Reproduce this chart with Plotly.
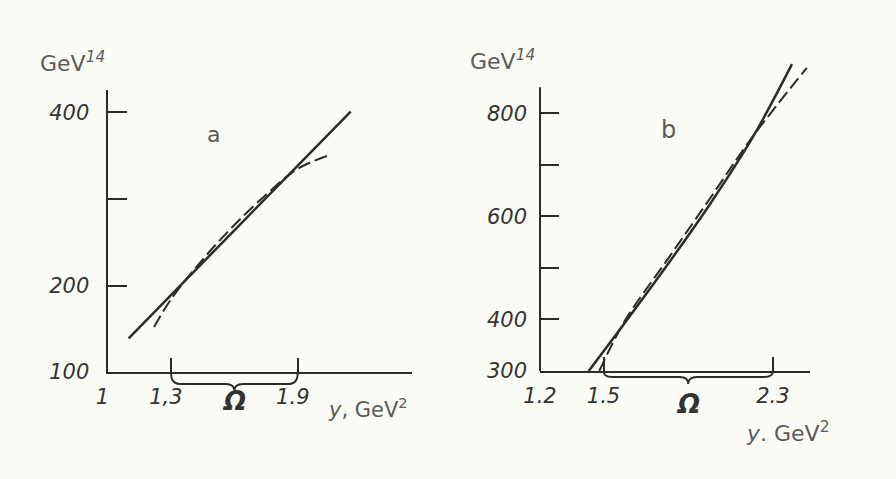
import plotly.graph_objects as go

W, H = 896, 479
BG = "#fbfbf5"
INK = "#2b2b2b"
GRAY = "#5a5a5a"

# ---------------- data ----------------
# panel a
a_solid_x = [1.10, 2.15]
a_solid_y = [139, 401]
a_dash_x = [1.22, 1.30, 1.45, 1.60, 1.75, 1.90, 2.04]
a_dash_y = [152, 184, 230, 270, 305, 335, 350]
a_yticks = [100, 200, 400]
a_ytext = ["100", "200", "400"]
a_yminor = [300]
a_xticks = [1.0, 1.3, 1.9]
a_xtext = ["1", "1,3", "1.9"]
a_omega = [1.3, 1.9]

# panel b
b_solid_x = [1.43, 1.60, 1.80, 2.00, 2.20, 2.39]
b_solid_y = [300, 393, 505, 622, 750, 895]
b_dash_x = [1.48, 1.60, 1.80, 2.00, 2.20, 2.46]
b_dash_y = [300, 397, 515, 633, 752, 888]
b_yticks = [300, 400, 600, 800]
b_ytext = ["300", "400", "600", "800"]
b_yminor = [500, 700]
b_xticks = [1.2, 1.5, 2.3]
b_xtext = ["1.2", "1.5", "2.3"]
b_omega = [1.5, 2.3]
b_axis_top = 850

# ---------------- layout helpers ----------------
def xd(p0, p1):
    return [p0 / W, p1 / W]

def yd(pb, pt):
    return [(H - pb) / H, (H - pt) / H]

def py(p):
    return (H - p) / H

tickfont = dict(family="DejaVu Sans", size=21, color="#333333", style="italic")

fig = go.Figure()
fig.add_trace(go.Scatter(x=a_solid_x, y=a_solid_y, mode="lines",
                         line=dict(color=INK, width=2.5), xaxis="x", yaxis="y"))
fig.add_trace(go.Scatter(x=a_dash_x, y=a_dash_y, mode="lines", line_shape="spline",
                         line=dict(color=INK, width=2, dash="13px,5px"), xaxis="x", yaxis="y"))
fig.add_trace(go.Scatter(x=b_solid_x, y=b_solid_y, mode="lines", line_shape="spline",
                         line=dict(color=INK, width=2.5), xaxis="x2", yaxis="y2"))
fig.add_trace(go.Scatter(x=b_dash_x, y=b_dash_y, mode="lines", line_shape="spline",
                         line=dict(color=INK, width=2, dash="13px,5px"), xaxis="x2", yaxis="y2"))

common_x = dict(showgrid=False, zeroline=False, showline=True, linecolor=INK, linewidth=2,
                ticks="inside", ticklen=14, tickwidth=2, tickcolor=INK, tickmode="array",
                tickfont=tickfont, ticklabelstandoff=5, automargin=False, fixedrange=True)
common_y = dict(showgrid=False, zeroline=False, linecolor=INK, linewidth=2,
                ticks="inside", ticklen=19, tickwidth=2, tickcolor=INK, tickmode="array",
                tickfont=tickfont, ticklabelstandoff=12, automargin=False, fixedrange=True)
minor_y = dict(ticks="inside", ticklen=19, tickwidth=2, tickcolor=INK, tickmode="array", showgrid=False)

fig.update_layout(
    width=W, height=H,
    font=dict(family="DejaVu Sans", size=21, color=GRAY),
    margin=dict(l=0, r=0, t=0, b=0, autoexpand=False),
    paper_bgcolor=BG, plot_bgcolor="rgba(0,0,0,0)",
    showlegend=False, hovermode=False,
    xaxis=dict(domain=xd(107.5, 412), range=[1.0, 2.44], anchor="y",
               tickvals=a_xticks, ticktext=a_xtext, ticklabelshift=-5, **common_x),
    yaxis=dict(domain=yd(372, 90), range=[100, 426], anchor="x", showline=True,
               tickvals=a_yticks, ticktext=a_ytext, minor=dict(tickvals=a_yminor, **minor_y), **common_y),
    xaxis2=dict(domain=xd(540, 810), range=[1.2, 2.475], anchor="y2",
                tickvals=b_xticks, ticktext=b_xtext, **common_x),
    yaxis2=dict(domain=yd(371, 59), range=[300, 905], anchor="x2", showline=False,
                tickvals=b_yticks, ticktext=b_ytext, minor=dict(tickvals=b_yminor, **minor_y), **common_y),
)

# y axis line of panel b (ends below the top of the curves)
fig.add_shape(type="line", xref="x2 domain", yref="y2", x0=0, x1=0, y0=300, y1=b_axis_top,
              line=dict(color=INK, width=2))

# braces marking the Omega interval
def brace(x0, x1, ytop, ybot, tip, dx):
    xm = (x0 + x1) / 2
    return (f"M {x0},{py(ytop)} Q {x0},{py(ybot)} {x0 + dx},{py(ybot)} "
            f"L {xm - dx},{py(ybot)} Q {xm},{py(ybot)} {xm},{py(tip)} "
            f"Q {xm},{py(ybot)} {xm + dx},{py(ybot)} "
            f"L {x1 - dx},{py(ybot)} Q {x1},{py(ybot)} {x1},{py(ytop)}")

fig.add_shape(type="path", xref="x", yref="paper",
              path=brace(a_omega[0], a_omega[1], 372, 384, 391, 0.04),
              line=dict(color=INK, width=1.8))
fig.add_shape(type="path", xref="x2", yref="paper",
              path=brace(b_omega[0], b_omega[1], 371, 377, 384, 0.04),
              line=dict(color=INK, width=1.8))

ann = []
def label(text, x, y, size, color=GRAY, xanchor="left", xref="paper", italic=False, bold=False):
    f = dict(family="DejaVu Sans", size=size, color=color)
    if italic:
        f["style"] = "italic"
    if bold:
        f["weight"] = "bold"
    ann.append(dict(text=text, x=x, y=py(y), xref=xref, yref="paper", xanchor=xanchor,
                    yanchor="middle", showarrow=False, font=f))

label("GeV<sup><i>14</i></sup>", 38 / W, 62, 22)
label("GeV<sup><i>14</i></sup>", 468 / W, 60, 22)
label("a", 213 / W, 135, 22, xanchor="center")
label("b", 668 / W, 130, 24, xanchor="center")
label("Ω", sum(a_omega) / 2, 401, 26, color="#333333", xanchor="center", xref="x", italic=True, bold=True)
label("Ω", sum(b_omega) / 2, 404, 26, color="#333333", xanchor="center", xref="x2", italic=True, bold=True)
label("<i>y</i>, GeV<sup>2</sup>", 326 / W, 408, 21)
label("<i>y</i>. GeV<sup>2</sup>", 744 / W, 432, 22)
fig.update_layout(annotations=ann)

fig.write_html("out.html", config={"displayModeBar": False},
               post_script="document.body.style.margin='0';document.body.style.background='%s';" % BG)
